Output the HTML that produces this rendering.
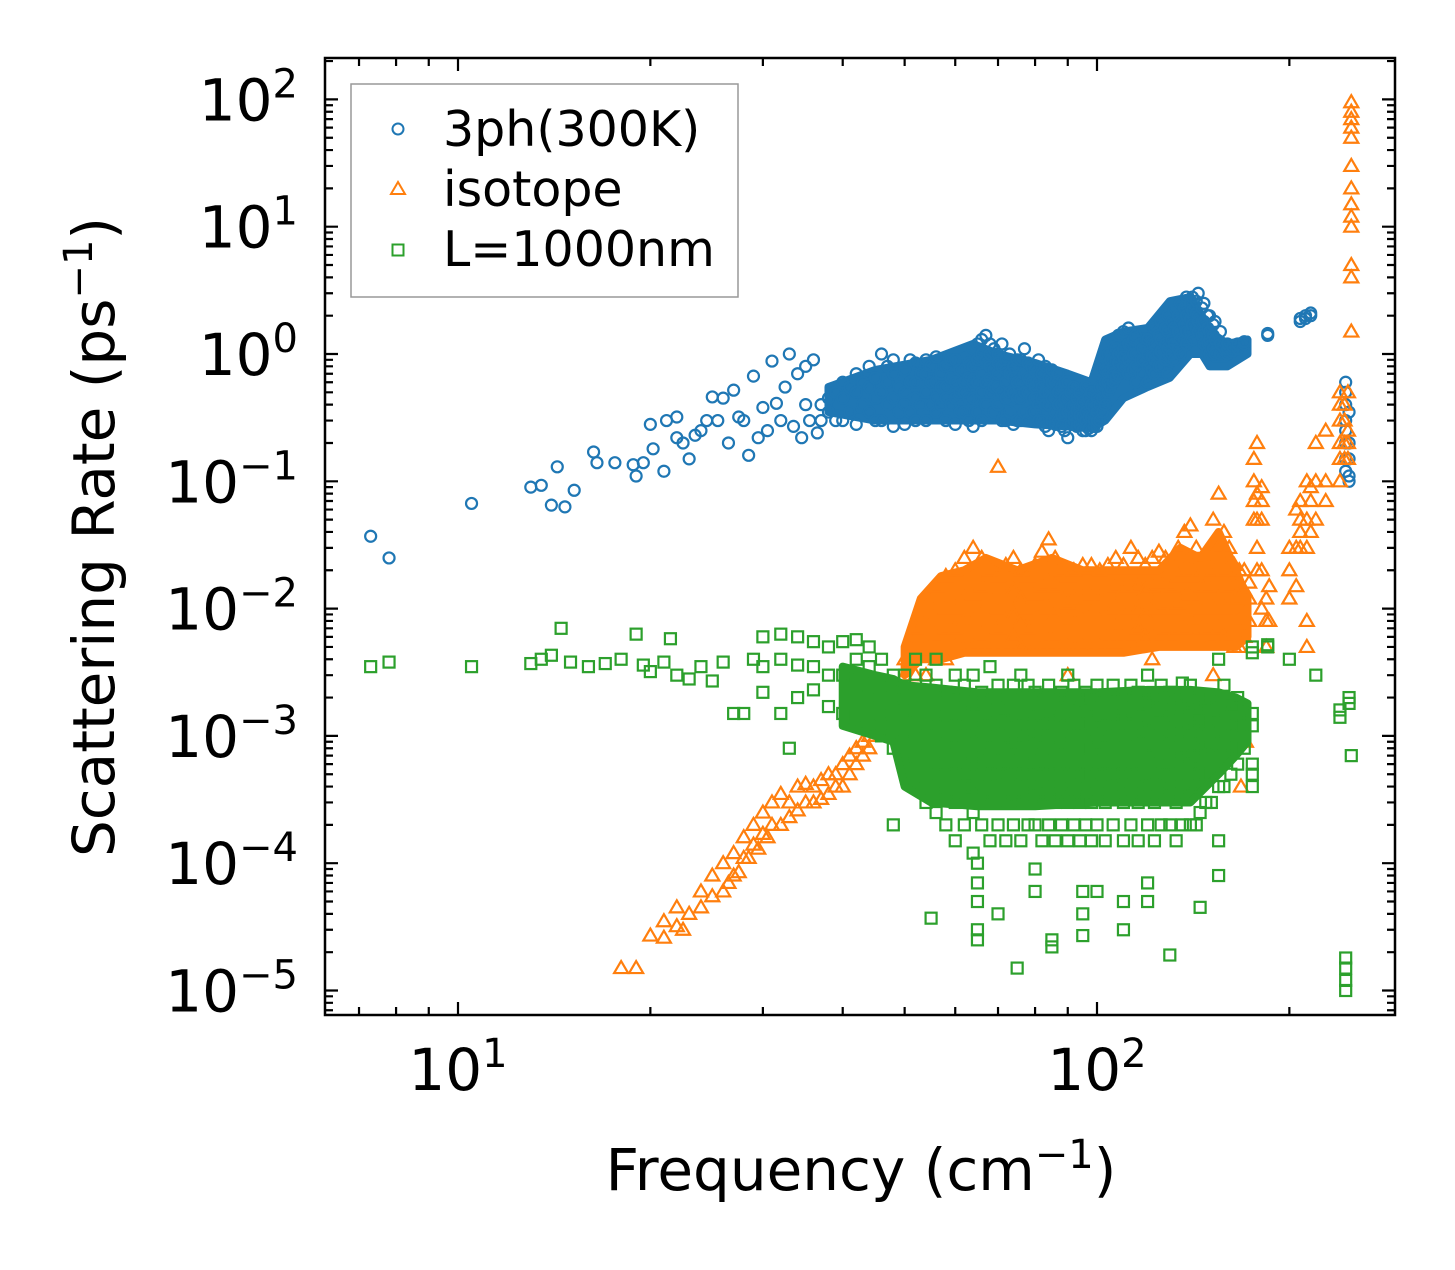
<!DOCTYPE html>
<html><head><meta charset="utf-8"><style>
html,body{margin:0;padding:0;background:#fff;}
svg text{font-family:"DejaVu Sans","Liberation Sans",sans-serif;fill:#000;}
</style></head>
<body>
<svg id="chart" width="1455" height="1265" viewBox="0 0 1455 1265" xmlns="http://www.w3.org/2000/svg">
<rect width="1455" height="1265" fill="#fff"/>
<g id="marks"></g>
<g id="axes"></g>
<rect x="325" y="58" width="1070" height="957" fill="none" stroke="#000" stroke-width="2.5"/>
<text transform="translate(114,537) rotate(-90)" text-anchor="middle" font-size="58">Scattering Rate (ps<tspan dy="-22" font-size="40">−1</tspan><tspan dy="22">)</tspan></text>
<text x="861" y="1190" text-anchor="middle" font-size="58">Frequency (cm<tspan dy="-22" font-size="40">−1</tspan><tspan dy="22">)</tspan></text>
<g>
<rect x="351" y="84" width="387" height="213" fill="#fff" stroke="#999" stroke-width="1.5"/>
<circle cx="398" cy="129" r="5.5" fill="none" stroke="#1f77b4" stroke-width="2"/>
<text x="443" y="146" font-size="49">3ph(300K)</text>
<path d="M398,182 L405,194 L391,194 Z" fill="none" stroke="#ff7f0e" stroke-width="2"/>
<text x="443" y="206" font-size="49">isotope</text>
<rect x="392.5" y="244.5" width="11" height="11" fill="none" stroke="#2ca02c" stroke-width="2"/>
<text x="443" y="266" font-size="49">L=1000nm</text>
</g>
</svg>
<script>
// ---- data: [frequency (cm^-1), [rates (ps^-1)...]] ----
const blueGroups=[
[7.3,[0.037]],[7.8,[0.025]],[10.5,[0.067]],[13,[0.09]],[13.5,[0.093]],[14,[0.065]],[14.3,[0.13]],[14.7,[0.063]],[15.2,[0.085]],
[16.3,[0.17]],[16.5,[0.14]],[17.6,[0.14]],[18.8,[0.135]],[19,[0.11]],[19.5,[0.14]],[20,[0.28]],[20.2,[0.18]],[21,[0.12]],[21.2,[0.3]],
[22,[0.32,0.22]],[22.5,[0.2]],[23,[0.15]],[23.5,[0.23]],[24,[0.25]],[24.5,[0.3]],[25,[0.46]],[25.5,[0.3]],[26,[0.45]],[26.5,[0.2]],
[27,[0.52]],[27.5,[0.32]],[28,[0.3]],[28.5,[0.16]],[29,[0.67]],[29.5,[0.22]],[30,[0.38]],[30.5,[0.25]],[31,[0.88]],[31.5,[0.41]],
[32,[0.3]],[32.5,[0.55]],[33,[1.0]],[33.5,[0.27]],[34,[0.7]],[34.5,[0.22]],[35,[0.8,0.4]],[35.5,[0.3]],[36,[0.9]],[36.5,[0.24]],
[37,[0.4,0.3]],[38,[0.45,0.35]],[39,[0.5,0.3]],[40,[0.3,0.45,0.6]],[41,[0.35,0.55]],[42,[0.28,0.5,0.7]],[43,[0.4,0.6]],
[44,[0.35,0.55,0.8]],[45,[0.3,0.45,0.65]],[46,[0.3,0.5,1.0]],[47,[0.4,0.6,0.8]],[48,[0.27,0.45,0.7,0.9]],[49,[0.35,0.55]],
[50,[0.28,0.5,0.75,0.4]],[51,[0.35,0.6,0.9]],[52,[0.3,0.6,0.85,0.45]],[53,[0.4,0.7]],[54,[0.3,0.5,0.9,0.7]],[55,[0.4,0.6,0.8]],
[56,[0.35,0.6,0.95,0.45]],[57,[0.4,0.7,0.55]],[58,[0.3,0.55,0.8,0.45]],[59,[0.4,0.65,0.9]],[60,[0.28,0.6,0.9,0.45]],[61,[0.35,0.5,0.75]],
[62,[0.35,0.5,0.75,0.6]],[63,[0.3,0.45,0.65,0.85]],[64,[0.27,0.45,0.8,1.1,0.6]],[65,[0.35,0.6,0.9,1.2]],[66,[0.3,0.7,1.3,0.5,1.0]],
[67,[0.4,0.6,0.9,1.4]],[68,[0.5,0.8,1.2,0.65,1.0]],[69,[0.35,0.55,0.75,1.1]],[70,[0.4,0.7,1.0,0.55,0.85]],[71,[0.3,0.5,0.8,1.2]],
[72,[0.3,0.6,0.9,0.45,0.75]],[73,[0.35,0.5,0.7,1.0]],[74,[0.28,0.5,0.8,0.65]],[75,[0.3,0.45,0.6,0.9]],[76,[0.3,0.6,0.9,0.45]],
[77,[0.35,0.5,0.7,1.1]],[78,[0.3,0.5,0.85,0.65]],[79,[0.35,0.45,0.6,0.8]],[80,[0.35,0.55,0.75,0.45]],[81,[0.3,0.4,0.6,0.9]],
[82,[0.3,0.45,0.7,0.55]],[83,[0.27,0.4,0.5,0.8]],[84,[0.25,0.4,0.65,0.5]],[85,[0.3,0.45,0.6,0.75]],[86,[0.28,0.45,0.6,0.35]],
[87,[0.3,0.4,0.5,0.7]],[88,[0.27,0.4,0.55,0.33]],[89,[0.25,0.35,0.45,0.6]],[90,[0.22,0.35,0.6,0.45]],[91,[0.28,0.38,0.5]],
[92,[0.3,0.4,0.55,0.33]],[93,[0.27,0.36,0.45]],[94,[0.28,0.38,0.5,0.33]],[95,[0.25,0.32,0.42]],[96,[0.25,0.35,0.55,0.3]],
[97,[0.26,0.32,0.45]],[98,[0.25,0.32,0.5,0.4]],[99,[0.27,0.3,0.38]],[100,[0.27,0.3,0.45,0.35]],[101,[0.3,0.4,0.55]],
[102,[0.35,0.55,0.8,0.45]],[103,[0.4,0.6,0.75]],[104,[0.5,0.7,1.0,0.6]],[105,[0.55,0.75,0.9]],[106,[0.6,0.8,1.2,0.7]],[107,[0.65,0.9,1.1]],
[108,[0.7,1.0,1.4,0.85]],[110,[0.8,1.1,1.5,0.95]],[112,[0.7,1.2,1.6,0.9]],[114,[0.75,1.0,1.3]],[115,[0.6,1.0,1.4,0.8]],[117,[0.7,0.9,1.2]],
[118,[0.7,1.1,1.5,0.9]],[120,[0.6,1.0,1.3,0.8]],[122,[0.75,0.95,1.2]],[123,[0.7,1.2,1.6,0.9]],[125,[0.8,1.0,1.4]],[126,[0.8,1.3,1.8,1.05]],
[128,[0.9,1.2,1.6]],[129,[0.7,1.5,2.0,1.1]],[131,[1.0,1.3,1.8]],[132,[0.9,1.6,2.2,1.2]],[134,[1.1,1.5,2.0]],[135,[1.0,1.8,2.5,1.3]],
[137,[1.3,1.7,2.3]],[138,[1.2,2.0,2.8,1.5]],[140,[1.5,1.9,2.5]],[141,[1.3,2.2,2.8,1.7]],[143,[1.6,2.1,2.6]],[144,[1.5,2.0,3.0,1.8]],
[146,[1.4,1.8,2.3]],[147,[1.2,1.8,2.5,1.5]],[149,[1.2,1.6,2.0]],[150,[1.0,1.5,2.0,1.3]],[152,[1.1,1.4,1.7]],[153,[1.0,1.3,1.8]],
[156,[1.0,1.2,1.5]],[160,[1.0,1.1,1.2]],[163,[1.05,1.15]],[166,[1.1,1.2]],[170,[1.2,1.25]],[185,[1.4,1.45]],
[208,[1.8,1.9]],[212,[1.9,2.0]],[216,[2.0,2.1]],
[245,[0.6,0.5,0.4,0.3,0.25,0.2,0.15,0.12]],[248,[0.35,0.2,0.15,0.11,0.1]]
];
const orangeGroups=[
[18,[1.5e-5]],[19,[1.5e-5]],[20,[2.7e-5]],[21,[3.5e-5,2.6e-5]],[22,[4.5e-5,3.2e-5]],[22.5,[3e-5]],[23,[4e-5]],[24,[6e-5,4.5e-5]],
[25,[8e-5,5.5e-5]],[26,[1e-4,6e-5]],[26.5,[7e-5]],[27,[1.2e-4,8e-5]],[27.5,[8.5e-5]],[28,[1.6e-4,1.1e-4]],[28.5,[1.1e-4]],
[29,[2e-4,1.4e-4]],[29.5,[1.3e-4]],[30,[2.5e-4,1.7e-4]],[30.5,[1.6e-4]],[31,[3e-4,2e-4]],[32,[2e-4,3.5e-4]],[33,[2.3e-4,3e-4]],
[34,[4e-4,2.6e-4]],[35,[4.2e-4,3e-4]],[36,[3e-4,4e-4]],[37,[4.5e-4,3.2e-4]],[38,[3.5e-4,5e-4]],[39,[5e-4,4e-4]],[40,[4e-4,6e-4]],
[41,[5e-4,7e-4]],[42,[6e-4,8e-4]],[43,[7e-4,9e-4]],[44,[8e-4,1e-3]],[45,[1e-3,1.1e-3]],[46,[1.2e-3,1.4e-3]],[48,[1.5e-3,2e-3]],
[50,[2e-3,3e-3,4e-3]],[52,[3e-3,5e-3,7e-3]],[54,[3e-3,5e-3,8e-3,1.2e-2]],[56,[4e-3,6e-3,9e-3,1.5e-2]],[58,[4e-3,7e-3,1e-2,1.8e-2]],
[60,[5e-3,7e-3,1e-2,2e-2]],[62,[5e-3,8e-3,1.2e-2,2.5e-2]],[64,[5e-3,8e-3,1.3e-2,3e-2]],[66,[6e-3,9e-3,1.5e-2,2.5e-2]],
[68,[5e-3,8e-3,1.2e-2,2e-2]],[70,[5e-3,7e-3,1e-2,1.8e-2,0.13]],[72,[5e-3,8e-3,1.2e-2,2.2e-2]],[74,[6e-3,9e-3,1.4e-2,2.5e-2]],
[76,[5e-3,8e-3,1.2e-2,2e-2]],[78,[5e-3,7e-3,1e-2,1.8e-2]],[80,[5e-3,8e-3,1.3e-2,2.2e-2]],[82,[5e-3,9e-3,1.5e-2,2.8e-2]],
[84,[6e-3,1e-2,1.6e-2,3.5e-2]],[86,[6e-3,9e-3,1.5e-2,2.5e-2]],[88,[5e-3,8e-3,1.2e-2,2e-2]],[90,[3e-3,5e-3,8e-3,1.1e-2,1.8e-2]],
[92,[5e-3,8e-3,1.2e-2,2e-2]],[95,[5e-3,8e-3,1.2e-2,2.2e-2]],[98,[5e-3,9e-3,1.3e-2,2.2e-2]],[101,[5e-3,8e-3,1.2e-2,2e-2]],
[104,[6e-3,9e-3,1.4e-2,2.2e-2]],[107,[6e-3,1e-2,1.5e-2,2.5e-2]],[110,[6e-3,9e-3,1.4e-2,2.2e-2]],[113,[6e-3,1e-2,1.5e-2,3e-2]],
[116,[7e-3,1e-2,1.5e-2,2.5e-2]],[119,[6e-3,9e-3,1.4e-2,2.2e-2]],[122,[4e-3,6e-3,1e-2,1.5e-2,2.5e-2]],[125,[6e-3,1e-2,1.6e-2,2.8e-2]],
[128,[7e-3,1.1e-2,1.6e-2,2.5e-2]],[131,[6e-3,1e-2,1.5e-2,2.2e-2]],[134,[7e-3,1.1e-2,1.8e-2,3e-2]],[137,[7e-3,1.2e-2,2e-2,4e-2]],
[140,[8e-3,1.3e-2,2e-2,4.5e-2]],[143,[8e-3,1.2e-2,1.8e-2,3e-2]],[146,[7e-3,1e-2,1.5e-2,2.5e-2]],[149,[7e-3,1e-2,1.5e-2,2.2e-2]],
[152,[3e-3,6e-3,1e-2,2e-2,5e-2]],[155,[7e-3,1.2e-2,3e-2,8e-2]],[158,[6e-3,1e-2,2e-2,4e-2]],[161,[6e-3,1e-2,1.5e-2,3e-2]],
[164,[5e-3,8e-3,1.2e-2,2.2e-2]],[167,[5e-3,8e-3,1.2e-2,2e-2]],[168,[4e-4]],[170,[6e-3,9e-3,1.4e-2,2e-2]],[171,[9e-4]],
[173,[8e-3,1.2e-2,1.6e-2]],[176,[0.05,0.07,0.1,0.15]],[178,[0.02,0.03,0.05,0.08,0.2]],[181,[0.01,0.02,0.05,0.07,0.09]],
[184,[0.005,0.008,0.012]],[186,[0.008,0.015]],[200,[0.012,0.02,0.03]],[205,[0.015,0.03,0.06]],[208,[0.03,0.04,0.05,0.07]],
[213,[0.005,0.008,0.03,0.05,0.1]],[216,[0.04,0.07,0.09]],[220,[0.05,0.1,0.2]],[228,[0.07,0.1,0.25]],
[240,[0.1,0.15,0.2,0.3,0.4,0.5]],[244,[0.15,0.2,0.3,0.4]],[247,[0.15,0.2,0.25,0.5]],
[250,[1.5,4,5,10,12,15,20,30,50,60,70,80,95]]
];
const greenGroups=[
[7.3,[3.5e-3]],[7.8,[3.8e-3]],[10.5,[3.5e-3]],[13,[3.7e-3]],[13.5,[4e-3]],[14,[4.3e-3]],[14.5,[7e-3]],[15,[3.8e-3]],[16,[3.5e-3]],
[17,[3.7e-3]],[18,[4e-3]],[19,[6.3e-3]],[19.5,[3.6e-3]],[20,[3.2e-3]],[21,[3.8e-3]],[21.5,[5.8e-3]],[22,[3e-3]],[23,[2.8e-3]],
[24,[3.5e-3]],[25,[2.7e-3]],[26,[3.8e-3]],[27,[1.5e-3]],[28,[1.5e-3]],[29,[4e-3]],
[30,[2.2e-3,3.5e-3,6e-3]],[32,[1.5e-3,4e-3,6.3e-3]],[33,[8e-4]],[34,[2e-3,3.6e-3,6e-3]],[36,[2.3e-3,3.5e-3,5.5e-3]],
[38,[1.7e-3,3e-3,5e-3]],[40,[1.5e-3,3e-3,5.5e-3]],[42,[1.4e-3,2.5e-3,4e-3,5.7e-3]],[44,[1.2e-3,2e-3,3.5e-3,5e-3]],
[46,[1e-3,1.5e-3,2.5e-3,4e-3]],[48,[2e-4,8e-4,1.2e-3,2e-3,3e-3]],[50,[6e-4,9e-4,1.3e-3,2e-3,3e-3]],
[52,[4e-4,7e-4,1e-3,1.6e-3,2.5e-3,4e-3]],[54,[3e-4,5e-4,8e-4,1.2e-3,2e-3,3e-3]],[55,[3.7e-5]],
[56,[2.5e-4,4e-4,6e-4,1e-3,1.5e-3,2.5e-3,4e-3]],[58,[2e-4,3.5e-4,6e-4,9e-4,1.4e-3,2.2e-3]],
[60,[1.5e-4,3e-4,5e-4,8e-4,1.2e-3,2e-3,3e-3]],[62,[2e-4,4e-4,6e-4,1e-3,1.5e-3,2.5e-3]],
[64,[1.2e-4,2.5e-4,4e-4,7e-4,1.1e-3,1.8e-3,3e-3]],[65,[2.5e-5,3e-5,5e-5,7e-5,1e-4]],[66,[2e-4,3.5e-4,6e-4,9e-4,1.4e-3,2.2e-3]],
[68,[1.5e-4,3e-4,5e-4,8e-4,1.2e-3,2e-3,3.5e-3]],[70,[4e-5,2e-4,4e-4,6e-4,1e-3,1.6e-3,2.5e-3]],
[72,[1.5e-4,3e-4,5e-4,8e-4,1.3e-3,2e-3]],[74,[2e-4,3.5e-4,6e-4,9e-4,1.4e-3,2.5e-3]],[75,[1.5e-5]],
[76,[1.5e-4,3e-4,5e-4,8e-4,1.2e-3,2e-3,3e-3]],[78,[2e-4,4e-4,6e-4,1e-3,1.5e-3,2.5e-3]],
[80,[6e-5,9e-5,2e-4,3.5e-4,6e-4,9e-4,1.4e-3,2.2e-3]],[82,[1.5e-4,3e-4,5e-4,8e-4,1.2e-3,2e-3]],
[84,[2e-4,3.5e-4,6e-4,1e-3,1.5e-3,2.5e-3]],[85,[2.2e-5,2.5e-5]],[86,[1.5e-4,3e-4,5e-4,8e-4,1.3e-3,2e-3]],
[88,[2e-4,4e-4,6e-4,9e-4,1.4e-3,2.2e-3]],[90,[1.5e-4,3e-4,5e-4,8e-4,1.2e-3,2e-3,3e-3]],
[92,[2e-4,3.5e-4,6e-4,1e-3,1.5e-3,2.5e-3]],[94,[1.5e-4,3e-4,5e-4,8e-4,1.2e-3,2e-3]],[95,[6e-5,4e-5,2.7e-5]],
[96,[2e-4,4e-4,6e-4,1e-3,1.5e-3,2.2e-3]],[98,[1.5e-4,3e-4,5e-4,8e-4,1.3e-3,2e-3]],[100,[6e-5,2e-4,3.5e-4,6e-4,9e-4,1.4e-3,2.5e-3]],
[103,[1.5e-4,3e-4,5e-4,8e-4,1.2e-3,2e-3]],[106,[2e-4,4e-4,6e-4,1e-3,1.5e-3,2.5e-3]],[110,[3e-5,5e-5,1.5e-4,3e-4,5e-4,8e-4,1.3e-3,2e-3]],
[113,[2e-4,3.5e-4,6e-4,1e-3,1.5e-3,2.5e-3]],[116,[1.5e-4,3e-4,5e-4,9e-4,1.4e-3,2.2e-3]],[120,[5e-5,7e-5,2e-4,4e-4,7e-4,1.1e-3,1.8e-3,3e-3]],
[123,[1.5e-4,3e-4,5e-4,8e-4,1.3e-3,2e-3]],[126,[2e-4,4e-4,6e-4,1e-3,1.6e-3,2.5e-3]],[130,[1.9e-5,2e-4,3.5e-4,6e-4,9e-4,1.4e-3,2.2e-3]],
[133,[1.5e-4,3e-4,5e-4,8e-4,1.3e-3,2e-3]],[136,[2e-4,4e-4,7e-4,1.1e-3,1.7e-3,2.6e-3]],[140,[2e-4,3.5e-4,6e-4,1e-3,1.5e-3,2.5e-3]],
[143,[2e-4,4e-4,7e-4,1.1e-3,1.6e-3]],[145,[4.5e-5,2.5e-4,5e-4,8e-4,1.3e-3,2e-3]],[148,[3e-4,5e-4,8e-4,1.2e-3,1.8e-3]],
[151,[3e-4,5e-4,9e-4,1.3e-3,2e-3]],[155,[8e-5,1.5e-4,4e-4,7e-4,1.1e-3,1.6e-3,4e-3]],[158,[4e-4,7e-4,1e-3,1.5e-3,2.5e-3]],
[162,[5e-4,8e-4,1.2e-3,1.8e-3]],[166,[6e-4,1e-3,1.4e-3,2e-3]],[170,[8e-4,1.2e-3,1.6e-3]],
[175,[5e-3,4.5e-3,4e-4,5e-4,6e-4,1.2e-3,1.5e-3]],[185,[5e-3,5.2e-3]],[200,[4e-3]],[220,[3e-3]],
[240,[1.4e-3,1.6e-3]],[245,[1e-5,1.2e-5,1.5e-5,1.8e-5]],[248,[2e-3,1.8e-3]],[250,[7e-4]]
];
// dense-core envelopes where markers overlap into solid areas: [frequency, low rate, high rate]
const blueCore=[[38,0.35,0.55],[45,0.3,0.75],[55,0.3,0.9],[64,0.3,1.2],[70,0.3,1.0],[80,0.28,0.85],[90,0.27,0.7],[98,0.26,0.6],
[103,0.3,1.3],[110,0.45,1.5],[120,0.55,1.6],[130,0.65,2.6],[140,1.0,2.8],[146,1.0,2.0],[150,0.8,1.5],[160,0.8,1.2],[172,1.0,1.3]];
const orangeCore=[[50,0.003,0.005],[53,0.004,0.012],[57,0.004,0.018],[62,0.0045,0.02],[67,0.0045,0.025],[75,0.0045,0.02],
[85,0.0045,0.025],[95,0.0045,0.02],[110,0.0045,0.02],[125,0.005,0.02],[135,0.005,0.03],[145,0.005,0.025],[155,0.005,0.04],
[165,0.005,0.02],[172,0.006,0.012]];
const greenCore=[[40,1.2e-3,3.5e-3],[45,1e-3,3e-3],[48,9e-4,2.8e-3],[50,4e-4,2.5e-3],[55,3e-4,2.4e-3],[65,2.8e-4,2.2e-3],
[80,2.8e-4,2.2e-3],[100,3e-4,2.2e-3],[120,3e-4,2.3e-3],[140,3e-4,2.3e-3],[155,5e-4,2.2e-3],[165,7e-4,2e-3],[172,9e-4,1.8e-3]];
const xTickValues=[10,100];
const xTickLabels=["1","2"];
const yTickValues=[1e2,1e1,1e0,1e-1,1e-2,1e-3,1e-4,1e-5];
const yTickLabels=["2","1","0","−1","−2","−3","−4","−5"];

// ---- axes ----
const X0=458, XPD=639, Y0=354, YPD=127.3;
const L=325,R=1395,T=58,B=1015;
function xs(f){return X0+(Math.log10(f)-1)*XPD;}
function ys(r){return Y0-Math.log10(r)*YPD;}
const NS="http://www.w3.org/2000/svg";
const marks=document.getElementById('marks');
const axes=document.getElementById('axes');
function mk(tag,attrs,parent){const e=document.createElementNS(NS,tag);for(const k in attrs)e.setAttribute(k,attrs[k]);parent.appendChild(e);return e;}

let tp="";
for(let d=0;d<=2;d++){for(let m=1;m<=9;m++){const v=m*Math.pow(10,d);const x=xs(v);if(x<L||x>R)continue;const len=m===1?13:8;tp+=`M${x},${B}v${-len}M${x},${T}v${len}`;}}
for(let d=-6;d<=2;d++){for(let m=1;m<=9;m++){const v=m*Math.pow(10,d);const y=ys(v);if(y<T||y>B)continue;const len=m===1?13:8;tp+=`M${L},${y}h${len}M${R},${y}h${-len}`;}}
const tickPath=mk('path',{d:tp,stroke:'#000','stroke-width':2.2,fill:'none'},axes);



xTickValues.forEach((v,i)=>{
  const t=mk('text',{x:xs(v),y:1090,'text-anchor':'middle','font-size':58},axes);
  
  
  t.innerHTML=`10<tspan dy="-23" font-size="40">${xTickLabels[i]}</tspan>`;
});
yTickValues.forEach((v,i)=>{
  const t=mk('text',{x:298,y:ys(v)+21,'text-anchor':'end','font-size':58},axes);
  
  
  t.innerHTML=`10<tspan dy="-23" font-size="40">${yTickLabels[i]}</tspan>`;
});

// ---- marks ----
function drawCore(core,name,color){
  const top=core.map(([f,lo,hi])=>`${xs(f)},${ys(hi)}`);
  const bot=core.slice().reverse().map(([f,lo,hi])=>`${xs(f)},${ys(lo)}`);
  const p=mk('polygon',{points:top.concat(bot).join(' '),fill:color,stroke:color,'stroke-width':8,'stroke-linejoin':'round'},marks);
  
  
}
function drawSeries(groups,name,color,shape){
  const g=mk('g',{fill:'none',stroke:color,'stroke-width':2.2},marks);
  
  
  groups.forEach(([f,rs])=>{
    rs.forEach(r=>{
      const x=xs(f),y=ys(r);
      let el;
      if(shape==='circle') el=mk('circle',{cx:x,cy:y,r:5.5},g);
      else if(shape==='tri') el=mk('path',{d:`M${x},${y-7}L${x+7},${y+5}L${x-7},${y+5}Z`},g);
      else el=mk('rect',{x:x-5.5,y:y-5.5,width:11,height:11},g);
      
      
    });
  });
}
drawCore(blueCore,'series-3ph-dense-core','#1f77b4');
drawSeries(blueGroups,'series-3ph','#1f77b4','circle');
drawCore(orangeCore,'series-isotope-dense-core','#ff7f0e');
drawSeries(orangeGroups,'series-isotope','#ff7f0e','tri');
drawCore(greenCore,'series-boundary-dense-core','#2ca02c');
drawSeries(greenGroups,'series-boundary','#2ca02c','square');
</script>
</body></html>
